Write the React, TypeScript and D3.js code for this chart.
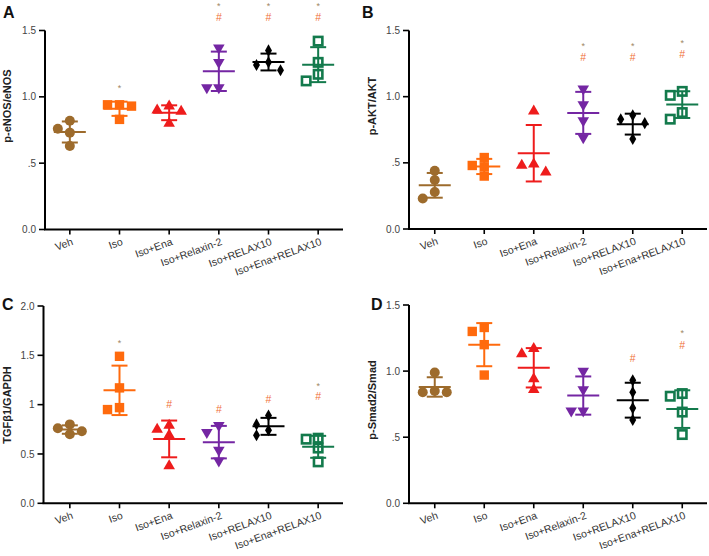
import React from 'react';
import * as d3 from 'd3';

// groups on the x axis
const groups = ['Veh', 'Iso', 'Iso+Ena', 'Iso+Relaxin-2', 'Iso+RELAX10', 'Iso+Ena+RELAX10'];

// four animals per group
const eNOS = [
  [0.82, 0.76, 0.73, 0.63],
  [0.94, 0.93, 0.94, 0.83],
  [0.93, 0.89, 0.90, 0.80],
  [1.37, 1.26, 1.07, 1.07],
  [1.35, 1.26, 1.24, 1.20],
  [1.42, 1.26, 1.17, 1.12],
];
const akt = [
  [0.44, 0.37, 0.28, 0.23],
  [0.54, 0.48, 0.47, 0.40],
  [0.89, 0.49, 0.48, 0.43],
  [1.06, 0.94, 0.82, 0.69],
  [0.86, 0.83, 0.80, 0.68],
  [1.04, 1.01, 0.88, 0.83],
];
const tgf = [
  [0.80, 0.76, 0.73, 0.70],
  [1.49, 1.17, 0.97, 0.95],
  [0.79, 0.75, 0.69, 0.38],
  [0.79, 0.72, 0.54, 0.43],
  [0.89, 0.80, 0.74, 0.69],
  [0.66, 0.65, 0.56, 0.42],
];
const smad = [
  [0.99, 0.85, 0.84, 0.84],
  [1.33, 1.30, 1.20, 0.97],
  [1.17, 1.13, 0.94, 0.86],
  [1.00, 0.86, 0.70, 0.70],
  [0.93, 0.84, 0.72, 0.63],
  [0.83, 0.81, 0.69, 0.52],
];

// significance marks (value level where the mark sits, null = none)
const eNOSStars = [null, 1.08, null, 1.70, 1.70, 1.70];
const eNOSHashes = [null, null, null, 1.6, 1.6, 1.6];
const aktStars = [null, null, null, 1.395, 1.395, 1.42];
const aktHashes = [null, null, null, 1.30, 1.30, 1.324];
const tgfStars = [null, 1.644, null, null, null, 1.21];
const tgfHashes = [null, null, 1.003, 0.952, 1.057, 1.087];
const smadStars = [null, null, null, null, null, 1.30];
const smadHashes = [null, null, null, null, 1.098, 1.199];

const ticks15 = [0, 0.5, 1, 1.5];
const ticks15Labels = ['0.0', '.5', '1.0', '1.5'];
const ticks20 = [0, 0.5, 1, 1.5, 2];
const ticks20Labels = ['0.0', '0.5', '1', '1.5', '2.0'];

const colors = ['#9d6b2c', '#ff6a0d', '#ee1c1c', '#7426a3', '#000000', '#137a4c'];
const shapes = ['circle', 'square', 'triUp', 'triDown', 'diamond', 'openSquare'];

const FONT = '"Liberation Sans", Arial, Helvetica, sans-serif';
const STAR = '#a08763';
const HASH = '#f07038';

function spread(vals: number[], y: (v: number) => number, step = 12, gap = 9) {
  const order = vals.map((v, i) => i).sort((a, b) => vals[b] - vals[a]);
  const placed: { dx: number; py: number }[] = [];
  const out = new Array(vals.length).fill(0);
  for (const i of order) {
    const py = y(vals[i]);
    for (const dx of [0, -step, step, -2 * step, 2 * step]) {
      if (placed.every(p => Math.abs(p.dx - dx) >= step || Math.abs(p.py - py) >= gap)) {
        out[i] = dx;
        placed.push({ dx, py });
        break;
      }
    }
  }
  return out;
}

function Marker({ shape, color, x, y }: any) {
  const sym = d3.symbol();
  if (shape === 'circle') return <circle cx={x} cy={y} r={5} fill={color} />;
  if (shape === 'square') return <rect x={x - 4.7} y={y - 4.7} width={9.4} height={9.4} fill={color} />;
  if (shape === 'openSquare')
    return <rect x={x - 4.2} y={y - 4.2} width={8.4} height={8.4} fill="white" stroke={color} strokeWidth={2.6} />;
  if (shape === 'diamond')
    return <path d={sym.type(d3.symbolDiamond).size(42)() as string} transform={`translate(${x},${y})`} fill={color} />;
  const tri = sym.type(d3.symbolTriangle).size(58)() as string;
  return (
    <path d={tri} transform={`translate(${x},${y}) rotate(${shape === 'triDown' ? 180 : 0})`} fill={color} />
  );
}

function Panel({ data, stars, hashes, yMax, tickVals, tickLabels, title, letter, L }: any) {
  const x = d3.scalePoint().domain(groups).range([L.x0, L.x1]).padding(0.5);
  const y = d3.scaleLinear().domain([0, yMax]).range([L.yBottom, L.yTop]);
  return (
    <g fontFamily={FONT}>
      <text x={L.letterX} y={L.letterY} fontSize={16} fontWeight="bold" fill="#111">{letter}</text>
      <text
        transform={`translate(${L.titleX},${L.titleY}) rotate(-90)`}
        textAnchor="middle"
        fontSize={11}
        fontWeight="bold"
        fill="#222"
      >
        {title}
      </text>
      {/* y axis */}
      <line x1={L.axisX} x2={L.axisX} y1={y(0)} y2={y(yMax)} stroke="#000" strokeWidth={2} />
      {tickVals.map((t: number, i: number) => (
        <g key={i}>
          <line x1={L.axisX - 6} x2={L.axisX} y1={y(t)} y2={y(t)} stroke="#000" strokeWidth={1.6} />
          <text x={L.axisX - 9} y={y(t) + 3.6} textAnchor="end" fontSize={10} fill="#444">{tickLabels[i]}</text>
        </g>
      ))}
      {/* x axis */}
      <line x1={L.axisX - 1} x2={L.x1} y1={y(0)} y2={y(0)} stroke="#000" strokeWidth={2} />
      {groups.map(g => (
        <g key={g}>
          <line x1={x(g)} x2={x(g)} y1={y(0)} y2={y(0) + 5} stroke="#000" strokeWidth={1.6} />
          <text
            transform={`translate(${(x(g) as number) + 4},${y(0) + 15}) rotate(-20)`}
            textAnchor="end"
            fontSize={10.5}
            fill="#333"
          >
            {g}
          </text>
        </g>
      ))}
      {data.map((vals: number[], gi: number) => {
        const cx = x(groups[gi]) as number;
        const mean = d3.mean(vals) as number;
        const sd = d3.deviation(vals) as number;
        const offs = spread(vals, y);
        const c = colors[gi];
        return (
          <g key={gi}>
            {vals.map((v, k) => (
              <Marker key={k} shape={shapes[gi]} color={c} x={cx + offs[k]} y={y(v)} />
            ))}
            <line x1={cx} x2={cx} y1={y(mean + sd)} y2={y(mean - sd)} stroke={c} strokeWidth={2} />
            <line x1={cx - 16} x2={cx + 16} y1={y(mean)} y2={y(mean)} stroke={c} strokeWidth={2} />
            <line x1={cx - 8} x2={cx + 8} y1={y(mean + sd)} y2={y(mean + sd)} stroke={c} strokeWidth={2} />
            <line x1={cx - 8} x2={cx + 8} y1={y(mean - sd)} y2={y(mean - sd)} stroke={c} strokeWidth={2} />
            {stars[gi] != null && (
              <text x={cx} y={y(stars[gi]) + 5} textAnchor="middle" fontSize={9} fill={STAR}>*</text>
            )}
            {hashes[gi] != null && (
              <text x={cx} y={y(hashes[gi]) + 3.8} textAnchor="middle" fontSize={10.5} fill={HASH}>#</text>
            )}
          </g>
        );
      })}
    </g>
  );
}

export default function App() {
  const LA = { x0: 45, x1: 343, axisX: 45, yTop: 30.5, yBottom: 229.5, titleX: 11, titleY: 106, letterX: 3, letterY: 18 };
  const LB = { x0: 410, x1: 707, axisX: 409, yTop: 30.5, yBottom: 229, titleX: 376, titleY: 106, letterX: 362, letterY: 18 };
  const LC = { x0: 45, x1: 343, axisX: 43.5, yTop: 306, yBottom: 503.3, titleX: 11, titleY: 405, letterX: 2, letterY: 310 };
  const LD = { x0: 410, x1: 707, axisX: 409, yTop: 305, yBottom: 503.3, titleX: 376, titleY: 400, letterX: 371, letterY: 310 };
  return (
    <svg width={709} height={556} style={{ position: 'absolute', left: 0, top: 0, background: '#fff' }}>
      <Panel data={eNOS} stars={eNOSStars} hashes={eNOSHashes} yMax={1.5} tickVals={ticks15} tickLabels={ticks15Labels} title="p-eNOS/eNOS" letter="A" L={LA} />
      <Panel data={akt} stars={aktStars} hashes={aktHashes} yMax={1.5} tickVals={ticks15} tickLabels={ticks15Labels} title="p-AKT/AKT" letter="B" L={LB} />
      <Panel data={tgf} stars={tgfStars} hashes={tgfHashes} yMax={2} tickVals={ticks20} tickLabels={ticks20Labels} title="TGFβ1/GAPDH" letter="C" L={LC} />
      <Panel data={smad} stars={smadStars} hashes={smadHashes} yMax={1.5} tickVals={ticks15} tickLabels={ticks15Labels} title="p-Smad2/Smad" letter="D" L={LD} />
    </svg>
  );
}
